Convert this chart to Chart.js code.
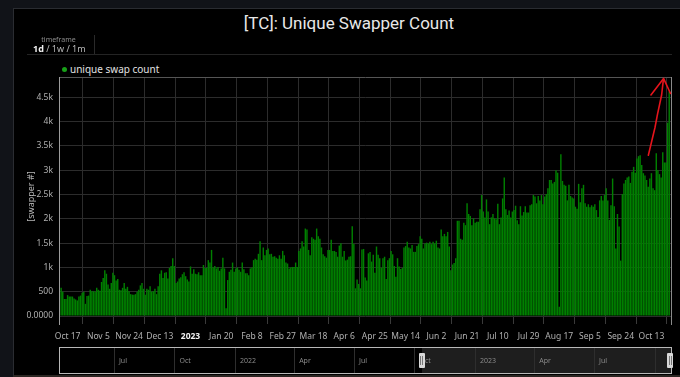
<!DOCTYPE html>
<html>
<head>
<meta charset="utf-8">
<script src="https://cdn.jsdelivr.net/npm/chart.js@4.4.0/dist/chart.umd.min.js"></script>
<style>
  html, body { margin: 0; padding: 0; width: 680px; height: 377px; overflow: hidden; background: #111318; font-family: 'Noto Sans', Roboto, sans-serif; }
  #panel { position: absolute; left: 13px; top: 8px; width: 667px; height: 366px; background: #000; border-left: 1px solid #2a2c31; border-top: 1px solid #2a2c31; border-bottom: 2px solid #2b2622; }
  #title { position: absolute; left: 14px; width: 670px; top: 13px; text-align: center; font-family: Roboto, sans-serif; font-size: 17px; color: #e8e8e8; }
  #tfLabel { position: absolute; left: 33px; width: 51px; top: 35px; text-align: center; font-size: 7px; color: #8c8c8c; filter: grayscale(1); }
  #tfOpts { position: absolute; left: 33px; width: 51px; top: 42px; text-align: center; font-size: 9px; color: #b8b8b8; white-space: nowrap; filter: grayscale(1); }
  #tfOpts b { color: #f0f0f0; }
  #tfSep { position: absolute; left: 94px; top: 35px; width: 1px; height: 20px; background: #2a2a2a; }
  #hSep { position: absolute; left: 27px; top: 54px; width: 645px; height: 1px; background: #242424; }
  #legend { position: absolute; left: 62px; top: 62px; font-size: 10px; color: #e2e2e2; white-space: nowrap; }
  #legend span { display: inline-block; width: 5px; height: 5px; border-radius: 50%; background: #18a018; margin-right: 3px; vertical-align: 1px; }
  #wrap { position: absolute; left: 0; top: 0; width: 680px; height: 377px; }
  #slider { position: absolute; left: 59px; top: 347px; width: 611px; height: 25px; border: 1px solid #b8b8b8; background: #000; overflow: hidden; filter: grayscale(1); }
  .sel { position: absolute; top: 0; height: 25px; background: #1e1e1e; }
  .sl { position: absolute; top: 0; width: 1px; height: 25px; background: #2e2e2e; }
  .st { position: absolute; top: 8px; font-size: 7px; color: #8a8a8a; white-space: nowrap; }
  .hd { position: absolute; top: 353px; width: 6px; height: 15px; background: #d8d8d8; border-radius: 1px; }
  .hd::before, .hd::after { content: ''; position: absolute; top: 3px; width: 1px; height: 9px; background: #777; }
  .hd::before { left: 1.5px; } .hd::after { left: 3.5px; }
</style>
</head>
<body>
<div id="panel"></div>
<div id="title">[TC]: Unique Swapper Count</div>
<div id="tfLabel">timeframe</div>
<div id="tfOpts"><b>1d</b> / 1w / 1m</div>
<div id="tfSep"></div>
<div id="hSep"></div>
<div id="legend"><span></span>unique swap count</div>
<div id="wrap"><canvas id="chart"></canvas></div>
<div id="slider"></div>
<script>
// daily unique swapper counts, first bar = 2022-10-13
const firstDate = new Date(2022, 9, 13);
const axisOrigin = new Date(2022, 9, 17);
const swapCounts = [
  580, 500, 350, 350,
  430, 400, 400, 400, 360, 340, 320, 400, 420, 480,
  500, 250, 410, 420, 540, 510, 510, 500, 580, 540,
  520, 700, 780, 940, 870, 650, 560, 680, 890, 840,
  730, 760, 540, 530, 580, 680, 560, 600, 510, 450,
  440, 440, 450, 500, 540, 630, 680, 560, 440, 560,
  540, 610, 500, 510, 560, 450, 610, 870, 940, 780,
  890, 900, 770, 990, 1030, 1190, 1030, 680, 710, 770,
  800, 860, 900, 820, 750, 710, 1020, 870, 960, 870,
  860, 900, 840, 840, 1050, 990, 990, 1150, 1100, 1360,
  1000, 1030, 980, 1010, 930, 980, 1200, 980, 160, 740,
  910, 950, 1100, 910, 980, 1000, 950, 910, 1100, 960,
  880, 880, 840, 980, 1000, 1150, 1180, 1160, 1280, 1540,
  1150, 1410, 1250, 1360, 1390, 1270, 1280, 1220, 1230, 1200,
  1180, 1250, 1180, 1340, 1250, 1100, 1080, 980, 1000, 1010,
  1010, 1100, 1010, 1340, 1390, 1540, 1430, 1800, 1780, 1360,
  1250, 1620, 1590, 1570, 1800, 1640, 1590, 1410, 1270, 1230,
  1200, 1360, 1360, 1570, 1340, 1340, 1320, 1220, 1450, 1500,
  1220, 1340, 1140, 1160, 1220, 1230, 1850, 1480, 570, 750,
  660, 570, 1370, 1380, 790, 730, 1290, 1320, 1120, 1260,
  890, 1430, 1260, 1190, 990, 1190, 1220, 760, 1150, 1190,
  1340, 1270, 1030, 810, 1190, 1020, 970, 990, 1410, 1440,
  1530, 1410, 1390, 1460, 1320, 1320, 1440, 1480, 1640, 1590,
  1390, 1490, 1510, 1490, 1530, 1480, 1530, 1490, 1550, 1410,
  1390, 1780, 1640, 1690, 1640, 1730, 1430, 940, 1060, 1090,
  1190, 1960, 1960, 1590, 1570, 1920, 1870, 2320, 2100, 2060,
  1870, 2010, 1920, 1940, 1940, 2200, 2490, 2150, 2030, 2400,
  2150, 1890, 2030, 2100, 2010, 1990, 2310, 1890, 2030, 2420,
  2850, 2200, 2080, 2170, 2030, 2150, 2180, 2270, 1970, 1890,
  2260, 2070, 2140, 2260, 2130, 2130, 2280, 2300, 2490, 2460,
  2320, 2470, 2380, 2490, 2300, 2460, 2510, 2630, 2800, 2800,
  2730, 2760, 3000, 2950, 190, 3330, 2780, 2700, 2680, 2380,
  2700, 2470, 2440, 2420, 2250, 2210, 2720, 2340, 2630, 2700,
  2320, 2250, 2300, 2240, 2280, 2250, 2300, 2180, 2040, 2380,
  2470, 2380, 2490, 2630, 2380, 1980, 2280, 2830, 2260, 1390,
  2100, 1840, 1140, 2510, 2730, 2800, 2850, 2870, 2740, 2970,
  3070, 2950, 3240, 3290, 3310, 3110, 2940, 2890, 2800, 2660,
  2830, 2940, 2630, 2590, 3350, 3000, 2920, 2850, 3370, 3160,
  3160, 3980, 4620
];

// x ticks every 19 days from Oct 17
const xTickDays = [0, 19, 38, 57, 76, 95, 114, 133, 152, 171, 190, 209, 228, 247, 266, 285, 304, 323, 342, 361];
const xTickLabels = ['Oct 17', 'Nov 5', 'Nov 24', 'Dec 13', '2023', 'Jan 20', 'Feb 8', 'Feb 27', 'Mar 18', 'Apr 6',
  'Apr 25', 'May 14', 'Jun 2', 'Jun 21', 'Jul 10', 'Jul 29', 'Aug 17', 'Sep 5', 'Sep 24', 'Oct 13'];
const yTickValues = [0, 500, 1000, 1500, 2000, 2500, 3000, 3500, 4000, 4500];
const yTickLabels = ['0.0000', '500', '1k', '1.5k', '2k', '2.5k', '3k', '3.5k', '4k', '4.5k'];

// range slider (navigator) labels
const sliderStart = new Date(2021, 3, 10);
const sliderEnd = new Date(2023, 9, 26);
const sliderTickDates = [new Date(2021, 6, 1), new Date(2021, 9, 1), new Date(2022, 0, 1), new Date(2022, 3, 1),
  new Date(2022, 6, 1), new Date(2022, 9, 1), new Date(2023, 0, 1), new Date(2023, 3, 1), new Date(2023, 6, 1), new Date(2023, 9, 1)];
const sliderTickLabels = ['Jul', 'Oct', '2022', 'Apr', 'Jul', 'Oct', '2023', 'Apr', 'Jul', ''];

// hand drawn red arrow, in [day, value]
const arrowShaft = [[359.1, 3310], [363.2, 3880], [364.8, 4160], [367.3, 4550], [368.4, 4870]];
const arrowHead = [[360.7, 4550], [368.5, 4890], [372.8, 4580]];

const DAY = 24 * 3600 * 1000;
const offsetDays = Math.round((firstDate - axisOrigin) / DAY);
const points = swapCounts.map((v, i) => ({ x: i + offsetDays, y: v }));

const frameAndArrow = {
  id: 'frameAndArrow',
  afterDraw(chart) {
    const { ctx, chartArea: a, scales: { x, y } } = chart;
    ctx.save();
    ctx.lineWidth = 1;
    ctx.strokeStyle = '#555';
    ctx.beginPath(); ctx.moveTo(a.left, a.top + 0.5); ctx.lineTo(a.right, a.top + 0.5); ctx.stroke();
    ctx.strokeStyle = '#9c9c9c';
    ctx.beginPath(); ctx.moveTo(a.left - 0.5, a.top); ctx.lineTo(a.left - 0.5, a.bottom + 9); ctx.stroke();
    ctx.strokeStyle = '#8a8a8a';
    ctx.beginPath(); ctx.moveTo(a.right + 0.5, a.top); ctx.lineTo(a.right + 0.5, a.bottom + 9); ctx.stroke();

    ctx.strokeStyle = '#e5141c';
    ctx.lineWidth = 1.6;
    ctx.lineCap = 'round';
    ctx.lineJoin = 'round';
    [arrowShaft, arrowHead].forEach(path => {
      ctx.beginPath();
      path.forEach(([d, v], i) => {
        const px = x.getPixelForValue(d), py = y.getPixelForValue(v);
        if (i === 0) ctx.moveTo(px, py); else ctx.lineTo(px, py);
      });
      ctx.stroke();
    });
    ctx.restore();
  }
};

new Chart(document.getElementById('chart'), {
  type: 'bar',
  data: {
    datasets: [{
      label: 'unique swap count',
      data: points,
      backgroundColor: '#008000',
      borderWidth: 0,
      barPercentage: 0.88,
      categoryPercentage: 1
    }]
  },
  options: {
    responsive: true,
    maintainAspectRatio: false,
    animation: false,
    layout: { padding: { left: 20, top: 77, right: 9, bottom: 31 } },
    plugins: { legend: { display: false }, tooltip: { enabled: false } },
    scales: {
      x: {
        type: 'linear',
        min: -4.7,
        max: 373.1,
        offset: false,
        border: { display: false },
        grid: { color: '#2c2c2c', tickColor: '#3a3a3a', tickLength: 8 },
        afterBuildTicks: s => { s.ticks = xTickDays.map(v => ({ value: v })); },
        afterFit: s => { s.height = 30; },
        ticks: {
          autoSkip: false,
          maxRotation: 0,
          padding: 7,
          color: c => c.index === 4 ? '#f2f2f2' : '#b0b0b0',
          font: c => ({ family: "'Noto Sans', sans-serif", size: 8.5, weight: c.index === 4 ? 'bold' : 'normal' }),
          callback: (v, i) => xTickLabels[i]
        }
      },
      y: {
        min: 0,
        max: 4920,
        border: { display: false },
        grid: { color: '#2c2c2c', drawTicks: false },
        afterBuildTicks: s => { s.ticks = yTickValues.map(v => ({ value: v })); },
        afterFit: s => { s.width = 40; },
        title: { display: true, text: '[swapper #]', color: '#b8b8b8', padding: { top: 6, bottom: 0 },
          font: { family: "'Noto Sans', sans-serif", size: 9 } },
        ticks: {
          padding: 7,
          color: '#b0b0b0',
          font: { family: "'Noto Sans', sans-serif", size: 8.5 },
          callback: (v, i) => yTickLabels[i]
        }
      }
    }
  },
  plugins: [frameAndArrow]
});

// navigator strip under the chart
const slider = document.getElementById('slider');
const sw = 611;
const spanDays = (sliderEnd - sliderStart) / DAY;
const toX = d => (d - sliderStart) / DAY / spanDays * sw;
const selStart = new Date(firstDate.getTime() - 0.7 * DAY);
const sel = document.createElement('div');
sel.className = 'sel';
sel.style.left = toX(selStart) + 'px';
sel.style.width = (sw - toX(selStart)) + 'px';
slider.appendChild(sel);
sliderTickDates.forEach((d, i) => {
  const l = document.createElement('div');
  l.className = 'sl';
  l.style.left = toX(d) + 'px';
  slider.appendChild(l);
  const t = document.createElement('div');
  t.className = 'st';
  t.style.left = (toX(d) + 5) + 'px';
  t.textContent = sliderTickLabels[i];
  slider.appendChild(t);
});
[60 + toX(selStart) - 3, 667].forEach(hx => {
  const h = document.createElement('div');
  h.className = 'hd';
  h.style.left = hx + 'px';
  document.body.appendChild(h);
});
</script>
</body>
</html>
